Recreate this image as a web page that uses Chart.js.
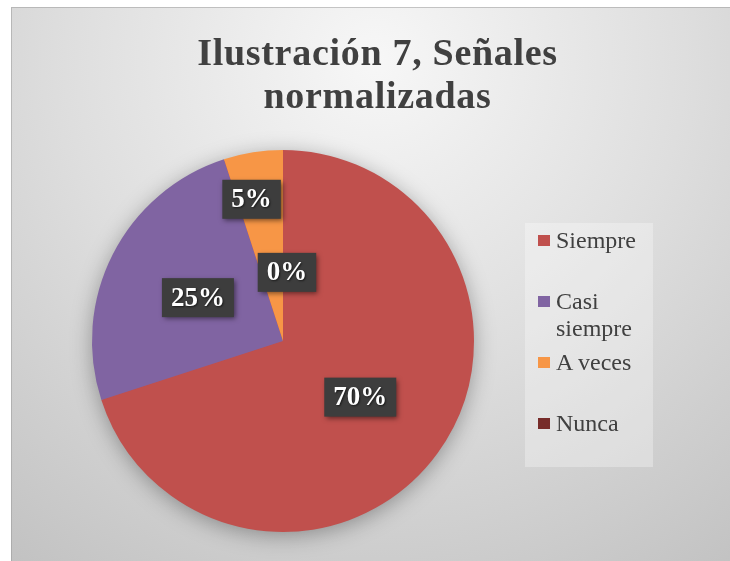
<!DOCTYPE html>
<html>
<head>
<meta charset="utf-8">
<script src="https://cdn.jsdelivr.net/npm/chart.js@4.4.1/dist/chart.umd.min.js"></script>
<style>
    html, body { margin: 0; padding: 0; background: #fff; }
    #wrap { position: relative; width: 730px; height: 561px; overflow: hidden; }
    #grafica { position: absolute; left: 0; top: 0; }
    #titulo {
        position: absolute; left: 18px; top: 31px; width: 719px;
        text-align: center; font-family: 'Liberation Serif', serif; font-weight: bold;
        font-size: 38px; line-height: 43px; letter-spacing: 0.7px; color: #404040;
    }
    #leyenda {
        position: absolute; left: 525px; top: 223px; width: 128px; height: 244px;
        background: rgba(255, 255, 255, 0.3);
    }
    .item { position: absolute; left: 13px; font-family: 'Liberation Serif', serif; font-size: 24px; line-height: 27px; color: #404040; }
    .item span.cuadro { position: absolute; left: 0; top: 8px; width: 12px; height: 11px; }
    .item span.texto { display: block; margin-left: 18px; width: 95px; }
</style>
</head>
<body>
<div id="wrap">
    <canvas id="grafica" width="730" height="561"></canvas>
    <div id="titulo">Ilustración 7, Señales<br>normalizadas</div>
    <div id="leyenda"></div>
</div>
<script>
// Datos de la gráfica
const categorias = ['Siempre', 'Casi siempre', 'A veces', 'Nunca'];
const valores = [70, 25, 5, 0];
const colores = ['#C0504D', '#8064A2', '#F79646', '#772C2A'];

// Posición de las etiquetas (fracción del radio, desvío en grados)
const posEtiquetas = [[0.5, 0], [0.5, 0], [0.76, -3.5], [0.36, 3.3]];

const total = valores.reduce((a, b) => a + b, 0);

// Leyenda HTML
const leyenda = document.getElementById('leyenda');
categorias.forEach((c, i) => {
    const div = document.createElement('div');
    div.className = 'item';
    div.style.top = (4 + i * 61) + 'px';
    div.innerHTML = `<span class="cuadro" style="background:${colores[i]}"></span><span class="texto">${c}</span>`;
    leyenda.appendChild(div);
});

const fondo = {
    id: 'fondo',
    beforeDraw(chart) {
        const ctx = chart.ctx;
        ctx.save();
        ctx.fillStyle = '#fff';
        ctx.fillRect(0, 0, chart.width, chart.height);
        const g = ctx.createRadialGradient(375, 60, 0, 375, 60, 620);
        g.addColorStop(0, '#f7f7f7');
        g.addColorStop(0.5, '#dedede');
        g.addColorStop(1, '#c2c2c2');
        ctx.fillStyle = g;
        ctx.fillRect(11, 7, 719, 554);
        ctx.strokeStyle = 'rgba(150,150,150,0.5)';
        ctx.lineWidth = 1;
        ctx.strokeRect(11.5, 7.5, 719, 554);
        ctx.restore();
    }
};

const sombraPastel = {
    id: 'sombraPastel',
    beforeDatasetsDraw(chart) {
        const arc = chart.getDatasetMeta(0).data[0];
        const { x, y, outerRadius } = arc.getProps(['x', 'y', 'outerRadius'], true);
        const ctx = chart.ctx;
        ctx.save();
        ctx.shadowColor = 'rgba(0,0,0,0.35)';
        ctx.shadowBlur = 22;
        ctx.shadowOffsetY = 4;
        ctx.fillStyle = colores[0];
        ctx.beginPath();
        ctx.arc(x, y, outerRadius - 1, 0, Math.PI * 2);
        ctx.fill();
        ctx.restore();
    }
};

const etiquetasDatos = {
    id: 'etiquetasDatos',
    afterDatasetsDraw(chart) {
        const ctx = chart.ctx;
        const meta = chart.getDatasetMeta(0);
        ctx.save();
        ctx.font = 'bold 27px "Liberation Serif"';
        ctx.textAlign = 'center';
        ctx.textBaseline = 'middle';
        meta.data.forEach((arc, i) => {
            const p = arc.getProps(['x', 'y', 'startAngle', 'endAngle', 'outerRadius'], true);
            const [f, dAng] = posEtiquetas[i];
            const ang = (p.startAngle + p.endAngle) / 2 + dAng * Math.PI / 180;
            const cx = p.x + Math.cos(ang) * p.outerRadius * f;
            const cy = p.y + Math.sin(ang) * p.outerRadius * f;
            const texto = Math.round(valores[i] / total * 100) + '%';
            const w = ctx.measureText(texto).width + 18;
            const h = 39;
            ctx.shadowColor = 'rgba(0,0,0,0.5)';
            ctx.shadowBlur = 5;
            ctx.shadowOffsetX = 2;
            ctx.shadowOffsetY = 2;
            ctx.fillStyle = '#3d3d3d';
            ctx.fillRect(cx - w / 2, cy - h / 2, w, h);
            ctx.shadowColor = 'rgba(0,0,0,0.6)';
            ctx.shadowBlur = 2;
            ctx.shadowOffsetX = 1;
            ctx.shadowOffsetY = 1;
            ctx.fillStyle = '#ffffff';
            ctx.fillText(texto, cx, cy + 1);
        });
        ctx.restore();
    }
};

new Chart(document.getElementById('grafica'), {
    type: 'pie',
    data: {
        labels: categorias,
        datasets: [{
            data: valores,
            backgroundColor: colores,
            borderWidth: 0
        }]
    },
    options: {
        responsive: false,
        animation: false,
        devicePixelRatio: 1,
        layout: { padding: { left: 92, top: 150, right: 256, bottom: 29 } },
        plugins: {
            legend: { display: false },
            title: { display: false },
            tooltip: { enabled: false }
        }
    },
    plugins: [fondo, sombraPastel, etiquetasDatos]
});
</script>
</body>
</html>
